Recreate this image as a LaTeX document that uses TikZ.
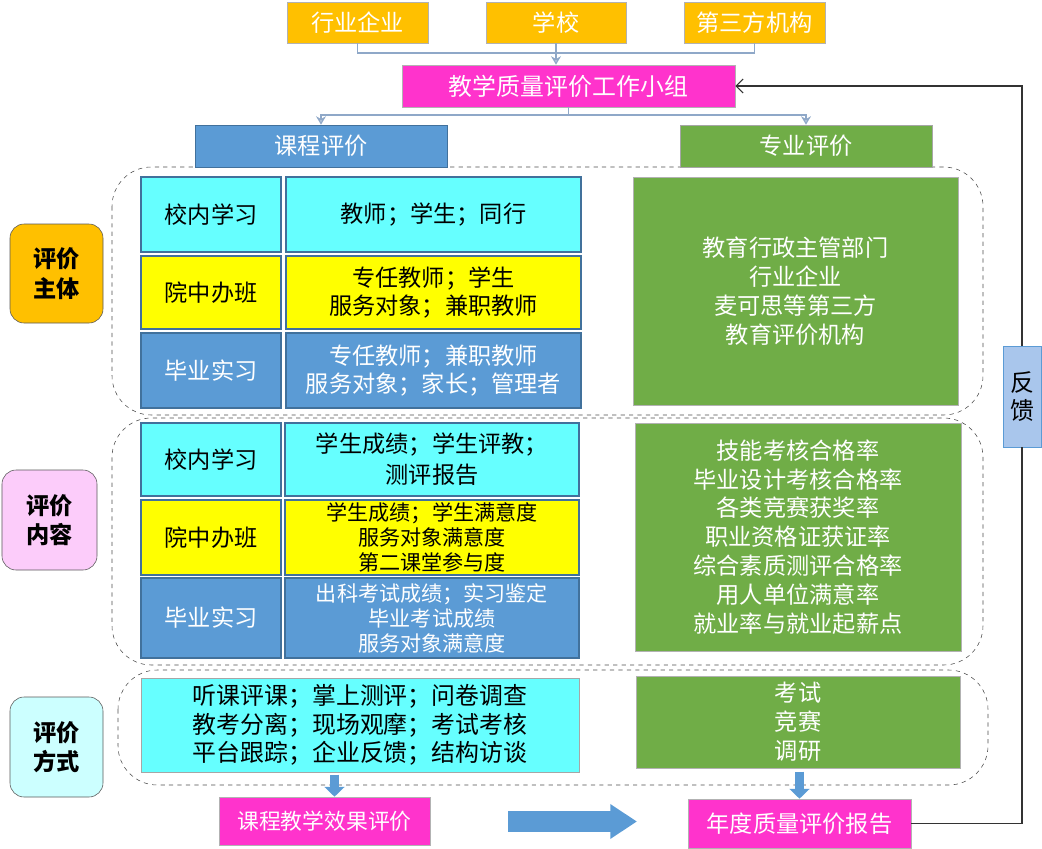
\documentclass[tikz,border=0pt]{standalone}
\usepackage{fontspec}
\setmainfont{Noto Sans CJK SC}
\usetikzlibrary{arrows.meta, positioning, calc}
\definecolor{c_orange}{HTML}{FFC000}
\definecolor{c_mag}{HTML}{FF33CC}
\definecolor{c_blue}{HTML}{5B9BD5}
\definecolor{c_green}{HTML}{70AD47}
\definecolor{c_cyan}{HTML}{66FFFF}
\definecolor{c_yellow}{HTML}{FFFF00}
\definecolor{c_pink}{HTML}{FCCCFA}
\definecolor{c_lcyan}{HTML}{CCFFFF}
\definecolor{c_fb}{HTML}{A9C6EC}
\definecolor{c_line}{HTML}{8FA8C8}
\definecolor{c_edge}{HTML}{41719C}
\tikzset{
  base/.style = {align=center, inner sep=0pt,
    font=\fontsize{16.5}{20.5}\selectfont},
  sz/.style 2 args = {minimum width=#1*0.025cm, minimum height=#2*0.025cm},
  small/.style = {font=\fontsize{15}{17.8}\selectfont},
  top_box/.style = {base, fill=c_orange, draw=gray!60, text=white},% sources
  mag_box/.style = {base, fill=c_mag, draw=gray!60, text=white},
  head_b/.style = {base, fill=c_blue, draw=c_edge, text=white},
  head_g/.style = {base, fill=c_green, draw=gray!70, text=white},
  cell_c/.style = {base, fill=c_cyan, draw=c_edge, line width=1.2pt},
  cell_y/.style = {base, fill=c_yellow, draw=c_edge, line width=1.2pt},
  cell_b/.style = {base, fill=c_blue, draw=c_edge, line width=1.2pt, text=white},
  green_box/.style = {base, fill=c_green, draw=gray!60, text=white},
  lab/.style = {base, rounded corners=10pt, draw=gray!70!black,
    font=\fontsize{16.5}{21}\selectfont\bfseries},% left labels
  fb_box/.style = {base, fill=c_fb, draw=c_blue,
    font=\fontsize{17}{19.5}\selectfont},
  frame/.style = {draw=gray!60!black, dashed, rounded corners=28pt},
  conn/.style = {draw=c_line, line width=1pt},
  tip/.style = {-{Stealth[open, length=6pt, width=7pt]}},
  blk_s/.style = {draw=c_blue, line width=7pt,
    -{Triangle[length=7pt, width=14pt]}},
  blk_l/.style = {draw=c_blue, line width=15.6pt,
    -{Triangle[length=19pt, width=23.5pt]}},
  fb_line/.style = {draw=black!80, line width=0.8pt}
}
\begin{document}
\begin{tikzpicture}[x=0.025cm, y=-0.025cm]
\useasboundingbox (0,0) rectangle (1042,849);
% dashed frames
\draw[frame] (112,167) rectangle (983,415);
\draw[frame] (112,418) rectangle (983,665);
\draw[frame] (118,670) rectangle (988,785);
% top
\node (ind) [top_box, sz={141}{41}] at (357.5,22.5) {行业企业};
\node (school) [top_box, sz={140}{41}] at (556,22.5) {学校};
\node (third) [top_box, sz={141}{41}] at (754.5,22.5) {第三方机构};
\node (grp) [mag_box, sz={333}{42}, font=\fontsize{17}{20}\selectfont] at (568.5,86) {教学质量评价工作小组};
\node (course) [head_b, sz={252}{42}] at (321,146) {课程评价};
\node (major) [head_g, sz={252}{42}] at (806,146) {专业评价};
\coordinate (j1) at (556,53);
\draw[conn] (ind.south) |- (j1) -| (third.south);
\draw[conn, tip] (school.south) -- (school.south |- grp.north);
\coordinate (j2) at (568.5,115);
\draw[conn] (grp.south) -- (j2);
\draw[conn, tip] (j2) -| (course.north);
\draw[conn, tip] (j2) -| (major.north);
% left labels
\node (lab_a) [lab, fill=c_orange, sz={93}{99}] at (56.5,273.5) {评价\\主体};
\node (lab_b) [lab, fill=c_pink, sz={95}{100}] at (49.5,520) {评价\\内容};
\node (lab_c) [lab, fill=c_lcyan, sz={93}{100}] at (56.5,747) {评价\\方式};
% evaluators
\node (a1) [cell_c, sz={140}{75}] at (211,214.5) {校内学习};
\node (a1r) [cell_c, sz={295}{75}] at (433.5,214.5) {教师；学生；同行};
\node (a2) [cell_y, sz={140}{73}] at (211,292.5) {院中办班};
\node (a2r) [cell_y, sz={295}{73}, font=\fontsize{16.5}{19.5}\selectfont] at (433.5,292.5) {专任教师；学生\\服务对象；兼职教师};
\node (a3) [cell_b, sz={140}{75}] at (211,370.5) {毕业实习};
\node (a3r) [cell_b, sz={295}{75}, font=\fontsize{16.5}{20}\selectfont] at (433.5,370.5) {专任教师；兼职教师\\服务对象；家长；管理者};
\node (g1) [green_box, sz={325}{228}] at (795.5,291) {教育行政主管部门\\行业企业\\麦可思等第三方\\教育评价机构};
% contents
\node (b1) [cell_c, sz={140}{73}] at (211,459.5) {校内学习};
\node (b1r) [cell_c, sz={294}{73}, font=\fontsize{16.5}{22}\selectfont] at (432,459.5) {学生成绩；学生评教；\\测评报告};
\node (b2) [cell_y, sz={140}{75}] at (211,537.5) {院中办班};
\node (b2r) [cell_y, sz={294}{75}, small] at (432,537.5) {学生成绩；学生满意度\\服务对象满意度\\第二课堂参与度};
\node (b3) [cell_b, sz={140}{80}] at (211,618) {毕业实习};
\node (b3r) [cell_b, sz={294}{80}, small] at (432,618) {出科考试成绩；实习鉴定\\毕业考试成绩\\服务对象满意度};
\node (g2) [green_box, sz={326}{228}] at (798,537) {技能考核合格率\\毕业设计考核合格率\\各类竞赛获奖率\\职业资格证获证率\\综合素质测评合格率\\用人单位满意率\\就业率与就业起薪点};
% methods
\node (meth) [cell_c, draw=gray!70, line width=0.6pt, sz={438}{94}, font=\fontsize{17}{20.5}\selectfont] at (360,725) {听课评课；掌上测评；问卷调查\\教考分离；现场观摩；考试考核\\平台跟踪；企业反馈；结构访谈};
\node (g3) [green_box, sz={324}{92}] at (798,722) {考试\\竞赛\\调研};
% results
\node (eff) [mag_box, sz={211}{48}, font=\fontsize{15.5}{19}\selectfont] at (324.5,821) {课程教学效果评价};
\node (report) [mag_box, sz={223}{49}] at (799.5,823.5) {年度质量评价报告};
\draw[blk_s] ($(eff.north)+(10,-22)$) -- ($(eff.north)+(10,0)$);
\draw[blk_s] ($(report.north)+(0,-27)$) -- (report.north);
\coordinate (ba_s) at (508,821.5);
\coordinate (ba_e) at (637,821.5);
\draw[blk_l] (ba_s) -- (ba_e);
% feedback
\node (fb) [fb_box, sz={38}{101}] at (1022,396.5) {反\\馈};
\draw[fb_line] (report.east) -| (fb.south);
\draw[fb_line, -{Straight Barb[length=5pt]}] (fb.north) |- (grp.east);
\end{tikzpicture}
\end{document}
